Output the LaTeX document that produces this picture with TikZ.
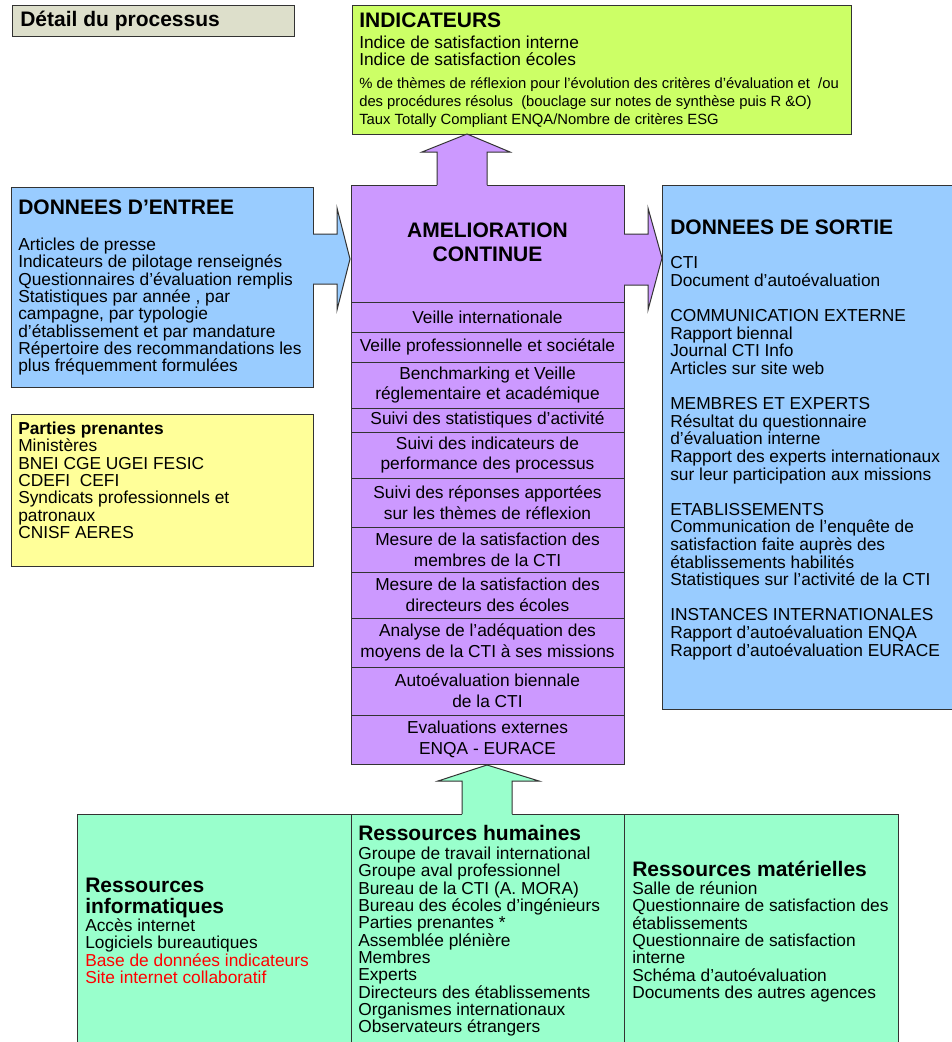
\documentclass[tikz,border=0pt]{standalone}
\usepackage{fontspec}
\setmainfont{Liberation Sans}
\usetikzlibrary{fit}
\definecolor{titlef}{RGB}{221,223,203}
\definecolor{indf}{RGB}{204,255,102}
\definecolor{bluef}{RGB}{153,204,255}
\definecolor{yelf}{RGB}{255,255,153}
\definecolor{purf}{RGB}{204,153,255}
\definecolor{greenf}{RGB}{153,255,204}
\definecolor{linec}{RGB}{51,51,51}
\definecolor{redt}{RGB}{255,0,0}
\begin{document}
\begin{tikzpicture}[x=0.75pt,y=-0.75pt,
  box/.style={draw=linec, line width=0.75pt, inner sep=0pt},
  body/.style={anchor=north west, inner sep=0pt, align=left, font=\fontsize{13}{13}\selectfont},
  head/.style={anchor=north west, inner sep=0pt, align=left, font=\fontsize{15.75}{15.75}\selectfont\bfseries},
  rowtext/.style={inner sep=0pt, align=center, font=\fontsize{13}{15.5}\selectfont},
  edge/.style={draw=linec, line width=0.75pt, line join=miter}
]
\useasboundingbox (0,0) rectangle (951,1042);

% title
\node[box, fill=titlef, fit={(12,5) (294,36)}] (title) {};
\node[head] (titletext) at (20,10.5) {Détail du processus};

% indicators
\node[box, fill=indf, fit={(352,5) (851,134)}] (ind) {};
\node[head] (indhead) at (359,12.5) {INDICATEURS};
\node[body] (indbody) at (359,35.6) {Indice de satisfaction interne\\
Indice de satisfaction écoles};
\node[body, font=\fontsize{11.1}{13.2}\selectfont] (indbody2) at (359,77.8) {\% de thèmes de réflexion pour l’évolution des critères d’évaluation et \ /ou\\
des procédures résolus \ (bouclage sur notes de synthèse puis R \&O)\\
Taux Totally Compliant ENQA/Nombre de critères ESG};

% input
\node[box, fill=bluef, fit={(11,187) (313,387)}] (in) {};
\node[head] (inhead) at (18,199.5) {DONNEES D’ENTREE};
\node[body] (inbody) at (18,237.6) {Articles de presse\\
Indicateurs de pilotage renseignés\\
Questionnaires d’évaluation remplis\\
Statistiques par année , par\\
campagne, par typologie\\
d’établissement et par mandature\\
Répertoire des recommandations les\\
plus fréquemment formulées};

% stakeholders
\node[box, fill=yelf, fit={(11,414) (313,566)}] (pp) {};
\node[body] (ppbody) at (18,421.6) {\textbf{Parties prenantes}\\
Ministères\\
BNEI CGE UGEI FESIC\\
CDEFI \ CEFI\\
Syndicats professionnels et\\
patronaux\\
CNISF AERES};

% output
\node[box, fill=bluef, fit={(662,185) (953,709)}] (out) {};
\node[head] (outhead) at (670,219.5) {DONNEES DE SORTIE};
\node[body, font=\fontsize{13}{13.2}\selectfont] (outbody) at (670,256.6) {CTI\\
Document d’autoévaluation\\[13.2pt]
COMMUNICATION EXTERNE\\
Rapport biennal\\
Journal CTI Info\\
Articles sur site web\\[13.2pt]
MEMBRES ET EXPERTS\\
Résultat du questionnaire\\
d’évaluation interne\\
Rapport des experts internationaux\\
sur leur participation aux missions\\[13.2pt]
ETABLISSEMENTS\\
Communication de l’enquête de\\
satisfaction faite auprès des\\
établissements habilités\\
Statistiques sur l’activité de la CTI\\[13.2pt]
INSTANCES INTERNATIONALES\\
Rapport d’autoévaluation ENQA\\
Rapport d’autoévaluation EURACE};

% central process
\node[box, fill=purf, fit={(351,185) (624,302)}] (amel) {};
\node[align=center, inner sep=0pt, font=\fontsize{15.75}{18}\selectfont\bfseries] (ameltext) at (487.5,242) {AMELIORATION\\CONTINUE};
\node[box, fill=purf, fit={(351,302) (624,332)}] (r1) {};
\node[box, fill=purf, fit={(351,332) (624,362)}] (r2) {};
\node[box, fill=purf, fit={(351,362) (624,408)}] (r3) {};
\node[box, fill=purf, fit={(351,408) (624,432)}] (r4) {};
\node[box, fill=purf, fit={(351,432) (624,478)}] (r5) {};
\node[box, fill=purf, fit={(351,478) (624,527)}] (r6) {};
\node[box, fill=purf, fit={(351,527) (624,572)}] (r7) {};
\node[box, fill=purf, fit={(351,572) (624,618)}] (r8) {};
\node[box, fill=purf, fit={(351,618) (624,667)}] (r9) {};
\node[box, fill=purf, fit={(351,667) (624,715)}] (r10) {};
\node[box, fill=purf, fit={(351,715) (624,764)}] (r11) {};
\node[rowtext] (t1) at (r1.center) {Veille internationale};
\node[rowtext] (t2) at (r2.center) {Veille professionnelle et sociétale};
\node[rowtext] (t3) at (r3.center) {Benchmarking et Veille\\réglementaire et académique};
\node[rowtext] (t4) at (r4.center) {Suivi des statistiques d’activité};
\node[rowtext] (t5) at (r5.center) {Suivi des indicateurs de\\performance des processus};
\node[rowtext] (t6) at (r6.center) {Suivi des réponses apportées\\sur les thèmes de réflexion};
\node[rowtext] (t7) at (r7.center) {Mesure de la satisfaction des\\membres de la CTI};
\node[rowtext] (t8) at (r8.center) {Mesure de la satisfaction des\\directeurs des écoles};
\node[rowtext] (t9) at (r9.center) {Analyse de l’adéquation des\\moyens de la CTI à ses missions};
\node[rowtext] (t10) at (r10.center) {Autoévaluation biennale\\de la CTI};
\node[rowtext] (t11) at (r11.center) {Evaluations externes\\ENQA - EURACE};

% resources
\node[box, fill=greenf, fit={(77,814) (351,1050)}] (ri) {};
\node[box, fill=greenf, fit={(351,814) (624,1050)}] (rh) {};
\node[box, fill=greenf, fit={(624,814) (898,1050)}] (rm) {};
\node[head] (rihead) at (85,877.5) {Ressources\\informatiques};
\node[body] (ribody) at (85,918.6) {Accès internet\\
Logiciels bureautiques\\
\textcolor{redt}{Base de données indicateurs}\\
\textcolor{redt}{Site internet collaboratif}};
\node[head] (rhhead) at (358,825.5) {Ressources humaines};
\node[body] (rhbody) at (358,846.6) {Groupe de travail international\\
Groupe aval professionnel\\
Bureau de la CTI (A. MORA)\\
Bureau des écoles d’ingénieurs\\
Parties prenantes *\\
Assemblée plénière\\
Membres\\
Experts\\
Directeurs des établissements\\
Organismes internationaux\\
Observateurs étrangers};
\node[head] (rmhead) at (632,860.5) {Ressources matérielles};
\node[body] (rmbody) at (632,881.6) {Salle de réunion\\
Questionnaire de satisfaction des\\
établissements\\
Questionnaire de satisfaction\\
interne\\
Schéma d’autoévaluation\\
Documents des autres agences};

% block arrows
% input -> process
\fill[bluef] (312,234) -- (337,234) -- (337,208) -- (350,259) -- (337,310) -- (337,284) -- (312,284) -- cycle;
\draw[edge] (313,234) -- (337,234) -- (337,208) -- (350,259) -- (337,310) -- (337,284) -- (313,284);
% process -> output
\fill[purf] (623,234) -- (648,234) -- (648,208) -- (662,258) -- (648,310) -- (648,285) -- (623,285) -- cycle;
\draw[edge] (624,234) -- (648,234) -- (648,208) -- (662,258) -- (648,310) -- (648,285) -- (624,285);
% process -> indicators
\fill[purf] (437,186) -- (437,152) -- (422,152) -- (467,134) -- (510,152) -- (487,152) -- (487,186) -- cycle;
\draw[edge] (437,185) -- (437,152) -- (422,152) -- (467,134) -- (510,152) -- (487,152) -- (487,185);
% resources -> process
\fill[greenf] (462,815) -- (462,781) -- (438,781) -- (487,765) -- (539,781) -- (512,781) -- (512,815) -- cycle;
\draw[edge] (462,814) -- (462,781) -- (438,781) -- (487,765) -- (539,781) -- (512,781) -- (512,814);
\end{tikzpicture}
\end{document}
